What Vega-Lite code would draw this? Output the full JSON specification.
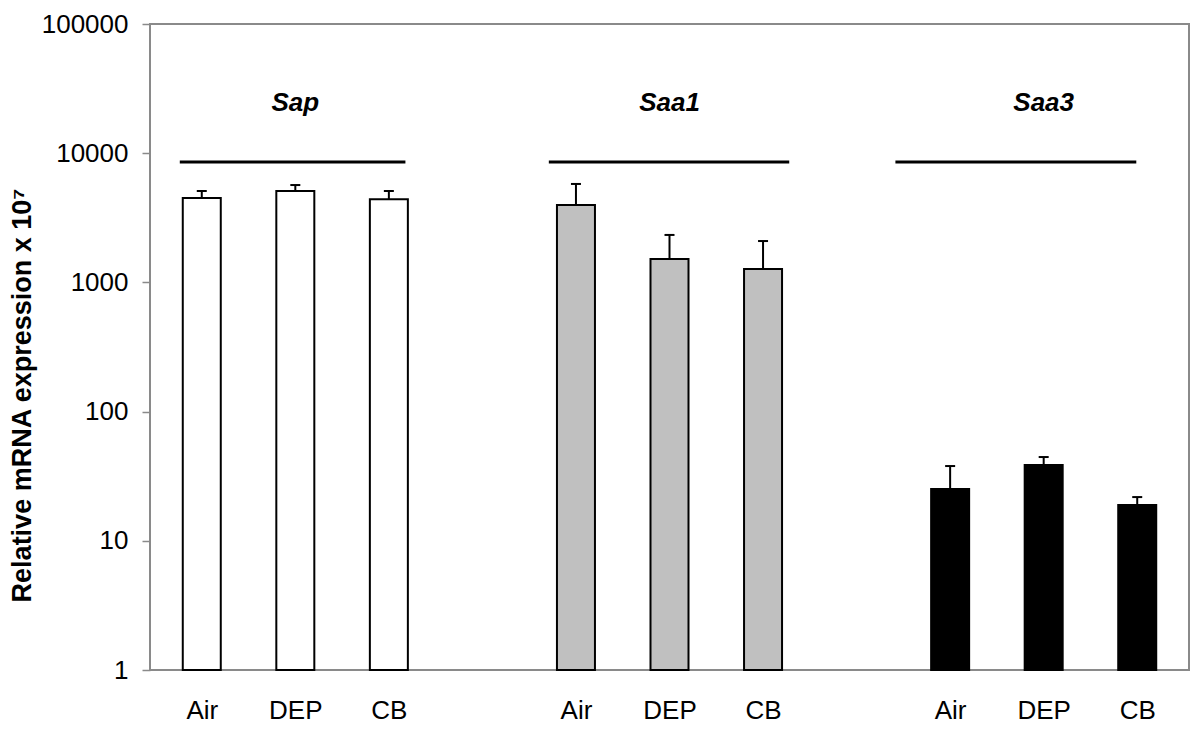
{
  "$schema": "https://vega.github.io/schema/vega-lite/v6.json",
  "width": 1039,
  "height": 646,
  "autosize": {"type": "none"},
  "padding": {"left": 150, "top": 24, "right": 11, "bottom": 59},
  "background": "white",
  "config": {
    "font": "Liberation Sans",
    "view": {"stroke": "#8a8a8a", "strokeWidth": 2},
    "axis": {"grid": false, "domain": false}
  },
  "datasets": {
    "bars": [
      {"group": "Sap", "treat": "Air", "pos": 1, "value": 4500, "err": 5100},
      {"group": "Sap", "treat": "DEP", "pos": 2, "value": 5100, "err": 5670},
      {"group": "Sap", "treat": "CB", "pos": 3, "value": 4400, "err": 5100},
      {"group": "Saa1", "treat": "Air", "pos": 5, "value": 3970, "err": 5780},
      {"group": "Saa1", "treat": "DEP", "pos": 6, "value": 1518, "err": 2330},
      {"group": "Saa1", "treat": "CB", "pos": 7, "value": 1270, "err": 2090},
      {"group": "Saa3", "treat": "Air", "pos": 9, "value": 25.2, "err": 37.9},
      {"group": "Saa3", "treat": "DEP", "pos": 10, "value": 38.6, "err": 44.5},
      {"group": "Saa3", "treat": "CB", "pos": 11, "value": 18.9, "err": 21.8}
    ],
    "groups": [
      {"group": "Sap", "start": 0.765, "end": 3.177, "line": 8550, "mid": 2, "label": 24500},
      {"group": "Saa1", "start": 4.71, "end": 7.28, "line": 8550, "mid": 6, "label": 24500},
      {"group": "Saa3", "start": 8.415, "end": 10.99, "line": 8550, "mid": 10, "label": 24500}
    ]
  },
  "layer": [
    {
      "data": {"name": "bars"},
      "mark": {"type": "bar", "size": 38, "stroke": "black", "strokeWidth": 2},
      "encoding": {
        "x": {
          "field": "pos", "type": "quantitative",
          "scale": {"domain": [0.5, 11.5], "nice": false, "zero": false},
          "axis": {
            "title": null,
            "values": [1, 2, 3, 5, 6, 7, 9, 10, 11],
            "labelExpr": "datum.value % 4 == 1 ? 'Air' : (datum.value % 4 == 2 ? 'DEP' : 'CB')",
            "ticks": false,
            "labelFontSize": 26,
            "labelColor": "black",
            "labelPadding": 27,
            "labelFlush": false
          }
        },
        "y": {
          "field": "value", "type": "quantitative",
          "scale": {"type": "log", "domain": [1, 100000], "nice": false},
          "axis": {
            "title": "Relative mRNA expression x 10⁷",
            "values": [1, 10, 100, 1000, 10000, 100000],
            "format": "d",
            "labelFontSize": 26,
            "labelColor": "black",
            "labelPadding": 14,
            "tickSize": 8,
            "tickColor": "#8a8a8a",
            "tickWidth": 1.5,
            "titleFontSize": 27,
            "titleFontWeight": "bold",
            "titleColor": "black",
            "titleX": -128,
            "titleY": 371,
            "titleBaseline": "middle",
            "titleAlign": "center",
            "titleAngle": -90
          }
        },
        "y2": {"datum": 1},
        "fill": {
          "field": "group", "type": "nominal",
          "scale": {"domain": ["Sap", "Saa1", "Saa3"], "range": ["white", "#c0c0c0", "black"]},
          "legend": null
        }
      }
    },
    {
      "data": {"name": "bars"},
      "mark": {"type": "rule", "stroke": "black", "strokeWidth": 2},
      "encoding": {
        "x": {"field": "pos", "type": "quantitative"},
        "y": {"field": "value", "type": "quantitative"},
        "y2": {"field": "err"}
      }
    },
    {
      "data": {"name": "bars"},
      "mark": {"type": "tick", "orient": "horizontal", "size": 10, "thickness": 2, "color": "black", "opacity": 1},
      "encoding": {
        "x": {"field": "pos", "type": "quantitative"},
        "y": {"field": "err", "type": "quantitative"}
      }
    },
    {
      "data": {"name": "groups"},
      "mark": {"type": "rule", "stroke": "black", "strokeWidth": 3},
      "encoding": {
        "x": {"field": "start", "type": "quantitative"},
        "x2": {"field": "end"},
        "y": {"field": "line", "type": "quantitative"}
      }
    },
    {
      "data": {"name": "groups"},
      "mark": {"type": "text", "fontSize": 26, "fontWeight": "bold", "fontStyle": "italic", "color": "black", "baseline": "middle", "align": "center"},
      "encoding": {
        "x": {"field": "mid", "type": "quantitative"},
        "y": {"field": "label", "type": "quantitative"},
        "text": {"field": "group"}
      }
    }
  ]
}
